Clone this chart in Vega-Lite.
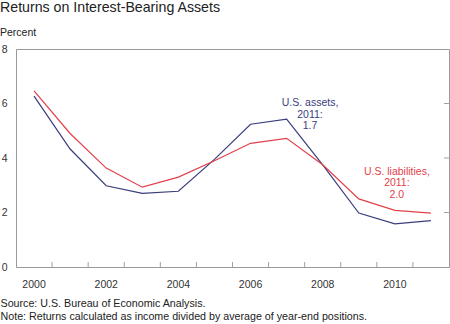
{
  "$schema": "https://vega.github.io/schema/vega-lite/v6.json",
  "autosize": "none",
  "width": 433,
  "height": 218,
  "padding": {"left": 16, "top": 49, "right": 1, "bottom": 57},
  "background": "white",
  "config": {
    "view": {"stroke": "#9a9a9a", "strokeWidth": 1},
    "font": "Liberation Sans",
    "axis": {"labelFont": "Liberation Sans", "labelFontSize": 10.5, "labelColor": "#333", "grid": false, "domain": false}
  },
  "title": {
    "text": "Returns on Interest-Bearing Assets",
    "subtitle": "Percent",
    "anchor": "start",
    "frame": "group",
    "dx": -16,
    "offset": 6,
    "font": "Liberation Sans",
    "fontSize": 14.2,
    "fontWeight": "normal",
    "color": "#222",
    "subtitleFont": "Liberation Sans",
    "subtitleFontSize": 10.5,
    "subtitleColor": "#222",
    "subtitlePadding": 12
  },
  "datasets": {
    "series": [
      {"year": 2000, "value": 6.27, "series": "U.S. assets"},
      {"year": 2001, "value": 4.33, "series": "U.S. assets"},
      {"year": 2002, "value": 2.98, "series": "U.S. assets"},
      {"year": 2003, "value": 2.7, "series": "U.S. assets"},
      {"year": 2004, "value": 2.78, "series": "U.S. assets"},
      {"year": 2005, "value": 3.95, "series": "U.S. assets"},
      {"year": 2006, "value": 5.24, "series": "U.S. assets"},
      {"year": 2007, "value": 5.43, "series": "U.S. assets"},
      {"year": 2008, "value": 3.75, "series": "U.S. assets"},
      {"year": 2009, "value": 1.98, "series": "U.S. assets"},
      {"year": 2010, "value": 1.58, "series": "U.S. assets"},
      {"year": 2011, "value": 1.7, "series": "U.S. assets"},
      {"year": 2000, "value": 6.46, "series": "U.S. liabilities"},
      {"year": 2001, "value": 4.9, "series": "U.S. liabilities"},
      {"year": 2002, "value": 3.63, "series": "U.S. liabilities"},
      {"year": 2003, "value": 2.93, "series": "U.S. liabilities"},
      {"year": 2004, "value": 3.3, "series": "U.S. liabilities"},
      {"year": 2005, "value": 3.9, "series": "U.S. liabilities"},
      {"year": 2006, "value": 4.54, "series": "U.S. liabilities"},
      {"year": 2007, "value": 4.72, "series": "U.S. liabilities"},
      {"year": 2008, "value": 3.75, "series": "U.S. liabilities"},
      {"year": 2009, "value": 2.5, "series": "U.S. liabilities"},
      {"year": 2010, "value": 2.08, "series": "U.S. liabilities"},
      {"year": 2011, "value": 1.98, "series": "U.S. liabilities"}
    ],
    "labels": [
      {"year": 2008, "value": 6.2, "series": "U.S. assets", "text": "U.S. assets,\n2011:\n1.7"},
      {"year": 2010, "value": 3.67, "series": "U.S. liabilities", "text": "U.S. liabilities,\n2011:\n2.0"}
    ],
    "xticks": [
      {"year": 2001}, {"year": 2002}, {"year": 2003}, {"year": 2004}, {"year": 2005}, {"year": 2006},
      {"year": 2007}, {"year": 2008}, {"year": 2009}, {"year": 2010}, {"year": 2011}
    ],
    "yticks": [{"value": 2}, {"value": 4}, {"value": 6}]
  },
  "layer": [
    {
      "data": {"name": "series"},
      "mark": {"type": "line", "strokeWidth": 1.2},
      "encoding": {
        "x": {
          "field": "year", "type": "ordinal",
          "scale": {"type": "band", "paddingInner": 0, "paddingOuter": 0},
          "axis": {
            "orient": "bottom",
            "labelAngle": 0,
            "labelExpr": "datum.value % 2 == 0 ? '' + datum.value : ''",
            "ticks": false,
            "labelPadding": 12,
            "title": ["Source: U.S. Bureau of Economic Analysis.", "Note: Returns calculated as income divided by average of year-end positions."],
            "titleAnchor": "start",
            "titleAlign": "left",
            "titleX": -16,
            "titleY": 31,
            "titleBaseline": "top",
            "titleFont": "Liberation Sans",
            "titleFontSize": 10.7,
            "titleFontWeight": "normal",
            "titleColor": "#222",
            "titleLineHeight": 13
          }
        },
        "y": {
          "field": "value", "type": "quantitative",
          "scale": {"domain": [0, 8], "nice": false},
          "axis": {"orient": "left", "values": [0, 2, 4, 6, 8], "ticks": false, "labelPadding": 9, "title": null}
        },
        "color": {
          "field": "series", "type": "nominal",
          "scale": {"domain": ["U.S. assets", "U.S. liabilities"], "range": ["#3a3d7c", "#e2404a"]},
          "legend": null
        }
      }
    },
    {
      "data": {"name": "xticks"},
      "mark": {"type": "tick", "orient": "vertical", "color": "#777", "thickness": 1, "size": 5, "xOffset": -18.04, "yOffset": -2.5},
      "encoding": {
        "x": {"field": "year", "type": "ordinal"},
        "y": {"datum": 0, "type": "quantitative"}
      }
    },
    {
      "data": {"name": "yticks"},
      "mark": {"type": "tick", "orient": "horizontal", "color": "#777", "thickness": 1, "size": 5, "xOffset": 15.5},
      "encoding": {
        "x": {"datum": 2011, "type": "ordinal"},
        "y": {"field": "value", "type": "quantitative"}
      }
    },
    {
      "data": {"name": "labels"},
      "transform": [{"filter": "datum.series == 'U.S. assets'"}],
      "mark": {"type": "text", "align": "center", "baseline": "top", "fontSize": 10.5, "lineHeight": 11.5, "lineBreak": "\n", "font": "Liberation Sans", "dx": -12.7},
      "encoding": {
        "x": {"field": "year", "type": "ordinal"},
        "y": {"field": "value", "type": "quantitative"},
        "text": {"field": "text"},
        "color": {
          "field": "series", "type": "nominal",
          "scale": {"domain": ["U.S. assets", "U.S. liabilities"], "range": ["#4a4f9e", "#d94651"]},
          "legend": null
        }
      }
    },
    {
      "data": {"name": "labels"},
      "transform": [{"filter": "datum.series == 'U.S. liabilities'"}],
      "mark": {"type": "text", "align": "center", "baseline": "top", "fontSize": 10.5, "lineHeight": 11.5, "lineBreak": "\n", "font": "Liberation Sans", "dx": 2},
      "encoding": {
        "x": {"field": "year", "type": "ordinal"},
        "y": {"field": "value", "type": "quantitative"},
        "text": {"field": "text"},
        "color": {
          "field": "series", "type": "nominal",
          "scale": {"domain": ["U.S. assets", "U.S. liabilities"], "range": ["#4a4f9e", "#d94651"]},
          "legend": null
        }
      }
    }
  ]
}
